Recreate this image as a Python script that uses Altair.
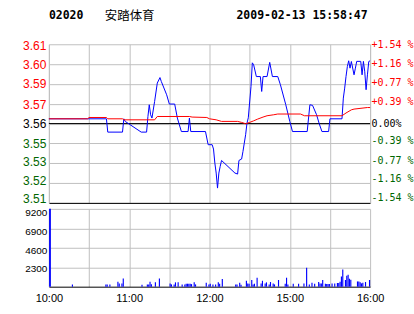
import altair as alt
import pandas as pd

prev_close = 3.56
stock_code = "02020"
stock_name = "安踏体育"
timestamp = "2009-02-13 15:58:47"

# minute index (0 = 10:00, 150 = 12:30/14:30, 240 = 16:00) and price
price_min = [0, 29, 43, 44, 55, 56, 57, 69, 73, 74, 75, 76, 77, 79, 81, 83, 84, 88, 90, 94,
             96, 99, 104, 105, 106, 117, 119, 122, 123, 124, 125, 126, 127, 128, 129, 139, 141,
             142, 144, 145, 146, 147, 148, 149, 151, 152, 153, 155, 158, 159, 160, 163, 165,
             167, 171, 173, 177, 180, 182, 193, 195, 197, 200, 202, 204, 209, 210, 219, 220,
             221, 222, 223, 224, 225, 226, 228, 229, 230, 233, 234, 235, 236, 237, 238, 239, 240]
price_val = [3.5633, 3.5633, 3.5633, 3.5541, 3.5541, 3.5633, 3.5615, 3.5541, 3.5541, 3.5649,
             3.5730, 3.5661, 3.5638, 3.5753, 3.5880, 3.5918, 3.5891, 3.5799, 3.5735, 3.5735,
             3.5638, 3.5545, 3.5545, 3.5638, 3.5545, 3.5545, 3.5454, 3.5454, 3.5424, 3.5327,
             3.5258, 3.5154, 3.5258, 3.5304, 3.5345, 3.5258, 3.5251, 3.5345, 3.5355, 3.5407,
             3.5465, 3.5523, 3.5603, 3.5640, 3.5856, 3.6020, 3.6006, 3.5925, 3.5925, 3.5822,
             3.5925, 3.5925, 3.6023, 3.5925, 3.5925, 3.5868, 3.5730, 3.5615, 3.5545, 3.5545,
             3.5730, 3.5726, 3.5661, 3.5599, 3.5545, 3.5545, 3.5633, 3.5633, 3.5776, 3.5845,
             3.5925, 3.5994, 3.6034, 3.5983, 3.6029, 3.5937, 3.5983, 3.6030, 3.6030, 3.5937,
             3.6030, 3.5958, 3.5834, 3.5937, 3.6029, 3.6034]

avg_min = [0, 29, 30, 43, 44, 55, 56, 79, 81, 105, 107, 118, 120, 125, 129, 141, 144, 147,
           150, 153, 156, 160, 163, 168, 171, 188, 191, 219, 222, 226, 228, 238, 240]
avg_val = [3.5633, 3.5633, 3.5642, 3.5642, 3.5633, 3.5633, 3.5626, 3.5626, 3.5649, 3.5649,
           3.5645, 3.5642, 3.5633, 3.5626, 3.5615, 3.5615, 3.5608, 3.5599, 3.5608, 3.5619,
           3.5631, 3.5645, 3.5654, 3.5661, 3.5666, 3.5666, 3.5654, 3.5654, 3.5673, 3.5695,
           3.5700, 3.5711, 3.5711]

vol_min = [0, 17, 42, 43, 45, 51, 52, 54, 55, 69, 73, 74, 75, 76, 79, 82, 90, 91, 93, 94, 96,
           99, 101, 102, 103, 104, 105, 106, 108, 109, 117, 119, 120, 122, 124, 126, 127, 129,
           139, 140, 142, 143, 147, 148, 149, 151, 152, 153, 155, 158, 159, 161, 162, 164, 165,
           167, 168, 171, 176, 177, 178, 182, 186, 190, 192, 194, 196, 198, 201, 202, 203, 204,
           206, 207, 208, 209, 211, 213, 215, 216, 217, 218, 219, 221, 222, 223, 224, 225, 230,
           231, 232, 233, 234, 236, 239]
vol_val = [9200, 270, 270, 270, 270, 590, 390, 390, 980, 240, 270, 270, 590, 290, 510, 980, 390,
           270, 270, 510, 510, 270, 270, 350, 350, 350, 350, 300, 510, 270, 470, 270, 350, 270,
           270, 510, 350, 900, 270, 270, 470, 240, 700, 390, 350, 790, 270, 350, 1060, 390, 700,
           390, 510, 270, 550, 390, 270, 790, 350, 1060, 270, 350, 350, 390, 2230, 270, 470, 350,
           550, 390, 390, 790, 350, 320, 320, 320, 390, 390, 430, 430, 590, 1210, 2030, 790, 1290,
           1410, 940, 820, 620, 620, 510, 390, 470, 550, 790]

pct_ticks = [-1.54, -1.155, -0.77, -0.385, 0, 0.385, 0.77, 1.155, 1.54]
vol_ticks = [2300, 4600, 6900, 9200]
time_ticks = [0, 30, 60, 90, 120, 150, 180, 210, 240]
time_labels = {0: "10:00", 60: "11:00", 120: "12:00", 180: "15:00", 240: "16:00"}

# label nudges (pixels) so the labels sit where the reference draws them
left_offsets = {1.54: 1.2, 1.155: 0.3, 0.77: -0.3, 0.385: 0.4, 0: 0.3,
                -0.385: 0.3, -0.77: -1.7, -1.155: -3.0, -1.54: -4.7}
right_offsets = {1.54: 0.6, 1.155: -0.3, 0.77: -1.5, 0.385: -2.2, 0: -0.3,
                 -0.385: -3.0, -0.77: -2.9, -1.155: -4.4, -1.54: -5.6}
vol_offsets = {9200: 3.3, 6900: 3.3, 4600: 2.7, 2300: 0.8}

W, H1, H2 = 322, 159, 78
GRID = "#c0c0c0"
RED = "#ff0000"
GREEN = "#006600"
BLUE = "#0000ff"
NBSP = "\u00a0"

price_df = pd.DataFrame({"m": price_min, "p": price_val})
price_df["pct"] = (price_df["p"] / prev_close - 1) * 100
avg_df = pd.DataFrame({"m": avg_min, "p": avg_val})
avg_df["pct"] = (avg_df["p"] / prev_close - 1) * 100
vol_df = pd.DataFrame({"m": vol_min, "v": vol_val})
one = pd.DataFrame({"a": [0]})
zero_df = pd.DataFrame({"z": [0.0]})


def offset_cond(offsets, tol):
    return {"condition": [{"test": f"abs(datum.value - ({k})) < {tol}", "value": v}
                          for k, v in offsets.items()], "value": 0}


xscale = alt.Scale(domain=[0, 240], nice=False, zero=False)
yscale = alt.Scale(domain=[-1.54, 1.54], nice=False, zero=False)

color_cond = {
    "condition": [
        {"test": "datum.value > 0.001", "value": RED},
        {"test": "datum.value < -0.001", "value": GREEN},
    ],
    "value": "black",
}

x_upper_axis = alt.Axis(values=time_ticks, labels=False, ticks=False, grid=True,
                        gridColor=GRID, gridWidth=1, domainColor="black", title=None)

left_axis = alt.Axis(values=pct_ticks,
                     labelExpr=f"format({prev_close}*(1+datum.value/100), '.2f')",
                     labelColor=color_cond, labelOffset=offset_cond(left_offsets, 0.01),
                     ticks=False, labelPadding=3, grid=True,
                     gridColor=GRID, domainColor=GRID, title=None,
                     labelFont="Liberation Sans", labelFontSize=12,
                     labelOverlap=False, labelFlush=False)

right_expr = ("abs(datum.value) < 0.001 ? '" + NBSP + "0.00%' : "
              "(datum.value > 0 ? '+' : '-') + format(abs(datum.value) + 1e-9, '.2f') + ' %'")
right_axis = alt.Axis(orient="right", values=pct_ticks, labelExpr=right_expr,
                      labelColor=color_cond, labelOffset=offset_cond(right_offsets, 0.01),
                      ticks=False, labelPadding=1, grid=False,
                      domainColor=GRID, title=None, labelFont="DejaVu Sans Mono",
                      labelFontSize=10, labelOverlap=False, labelFlush=False)

zero_rule = alt.Chart(zero_df).mark_rule(color="black", strokeWidth=1).encode(
    y=alt.Y("z:Q", scale=yscale, axis=None))

blue_line = alt.Chart(price_df).mark_line(color=BLUE, strokeWidth=1).encode(
    x=alt.X("m:Q", scale=xscale, axis=x_upper_axis),
    y=alt.Y("pct:Q", scale=yscale, axis=left_axis))

red_line = alt.Chart(avg_df).mark_line(color=RED, strokeWidth=1).encode(
    x=alt.X("m:Q", scale=xscale, axis=x_upper_axis),
    y=alt.Y("pct:Q", scale=yscale, axis=right_axis))

t_code = alt.Chart(one).mark_text(text=stock_code, font="DejaVu Sans Mono", fontWeight="bold",
                                  fontSize=11.5, align="left", baseline="middle",
                                  color="black").encode(x=alt.value(0), y=alt.value(-28))
t_name = alt.Chart(one).mark_text(text=stock_name, font="Noto Sans CJK SC", fontSize=12.5,
                                  align="left", baseline="middle",
                                  color="black").encode(x=alt.value(56), y=alt.value(-28))
t_time = alt.Chart(one).mark_text(text=timestamp, font="DejaVu Sans Mono", fontWeight="bold",
                                  fontSize=11.5, align="left", baseline="middle",
                                  color="black").encode(x=alt.value(188), y=alt.value(-28))

upper = alt.layer(zero_rule, blue_line, red_line, t_code, t_name, t_time).resolve_axis(
    y="independent").properties(width=W, height=H1)

label_expr = " : ".join(f"datum.value == {k} ? '{v}'" for k, v in time_labels.items()) + " : ''"
vol_x_axis = alt.Axis(values=time_ticks, labelExpr=label_expr, ticks=False, grid=True,
                      gridColor=GRID, domainColor="black", labelFont="Liberation Sans",
                      labelFontSize=11, labelPadding=6, labelFlush=False, labelOverlap=False,
                      title=None, labelColor="black")
vol_y_axis = alt.Axis(values=vol_ticks, ticks=False, grid=True, gridColor=GRID,
                      domainColor=GRID, labelFont="Liberation Sans", labelFontSize=10,
                      labelPadding=2, labelOffset=offset_cond(vol_offsets, 1),
                      title=None, labelColor="black",
                      format="d", labelOverlap=False, labelFlush=False)

bars = alt.Chart(vol_df).transform_calculate(
    m1="datum.m + 0.15", m2="datum.m == 0 ? 1.5 : datum.m + 1.0"
).mark_rect(color=BLUE).encode(
    x=alt.X("m1:Q", scale=xscale, axis=vol_x_axis),
    x2="m2:Q",
    y=alt.Y("v:Q", scale=alt.Scale(domain=[0, 9200], nice=False, zero=True), axis=vol_y_axis),
    y2=alt.datum(0),
).properties(width=W, height=H2)

chart = alt.vconcat(upper, bars, spacing=6, bounds="flush").properties(
    padding={"left": 22, "top": 10, "right": 0, "bottom": 5},
    background="white",
).configure_view(stroke=None)

chart.save("out.html", embed_options={"renderer": "svg", "actions": False})
